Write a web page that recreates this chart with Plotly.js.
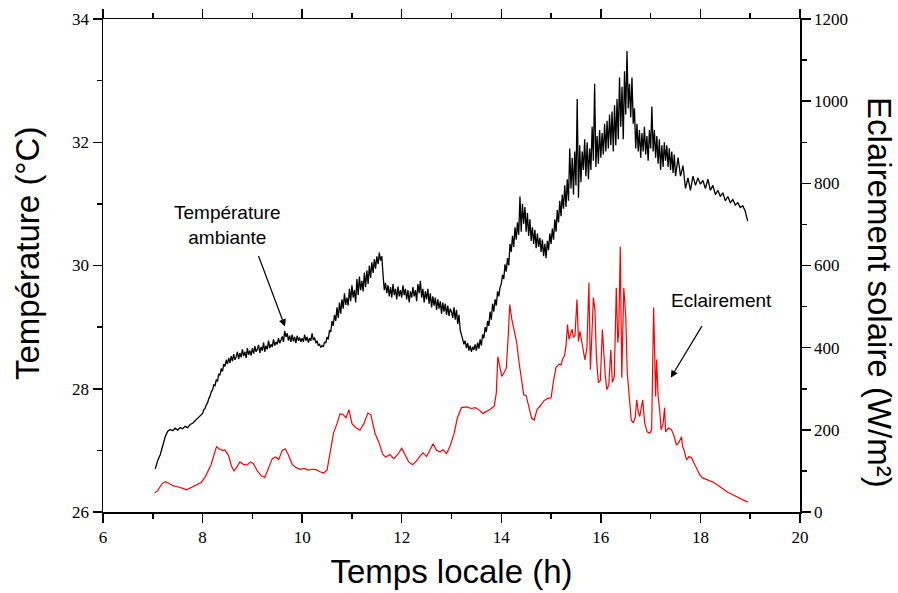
<!DOCTYPE html>
<html>
<head>
<meta charset="utf-8">
<script src="https://cdn.plot.ly/plotly-3.0.1.min.js"></script>
<style>html,body{margin:0;padding:0;background:#fff;}#chart{width:898px;height:593px;}</style>
</head>
<body>
<div id="chart"></div>
<script>
// Ambient temperature (°C), read from the figure in four sampled stretches
// stretch A: 7.05 h .. 7.95 h, every 0.05 h
var tempAStart = 7.05, tempAStep = 0.05;
var tempA = [
  26.70, 26.84, 26.93, 27.08, 27.22, 27.31, 27.34, 27.32, 27.36, 27.33, 27.37, 27.35, 27.39, 27.37, 27.42, 27.44, 27.48, 27.52, 27.57
];
// stretch B: 8.000 h .. 13.975 h, every 0.025 h
var tempBStart = 8.0, tempBStep = 0.025;
var tempB = [
  27.60, 27.66, 27.68, 27.74, 27.77, 27.84, 27.88, 27.95, 27.98, 28.06, 28.05, 28.15, 28.12, 28.24, 28.22, 28.33, 28.28, 28.40, 28.36, 28.47,
  28.40, 28.50, 28.42, 28.53, 28.45, 28.56, 28.47, 28.52, 28.60, 28.48, 28.58, 28.51, 28.64, 28.53, 28.60, 28.50, 28.66, 28.55, 28.62, 28.54,
  28.66, 28.57, 28.69, 28.60, 28.64, 28.71, 28.58, 28.68, 28.62, 28.75, 28.60, 28.70, 28.64, 28.78, 28.66, 28.72, 28.68, 28.80, 28.70, 28.76,
  28.72, 28.82, 28.74, 28.79, 28.85, 28.76, 28.94, 28.84, 28.90, 28.78, 28.86, 28.76, 28.88, 28.77, 28.84, 28.74, 28.86, 28.78, 28.83, 28.76,
  28.82, 28.76, 28.88, 28.78, 28.84, 28.75, 28.82, 28.78, 28.90, 28.79, 28.83, 28.74, 28.78, 28.70, 28.72, 28.67, 28.70, 28.68, 28.76, 28.74,
  28.84, 28.80, 28.95, 28.92, 29.10, 29.02, 29.20, 29.10, 29.32, 29.15, 29.40, 29.22, 29.45, 29.30, 29.55, 29.36, 29.48, 29.35, 29.62, 29.42,
  29.68, 29.48, 29.60, 29.40, 29.78, 29.52, 29.82, 29.60, 29.75, 29.58, 29.88, 29.65, 29.92, 29.70, 30.00, 29.80, 30.05, 29.88, 30.10, 29.95,
  30.15, 30.02, 30.21, 30.08, 30.15, 29.85, 29.60, 29.72, 29.55, 29.68, 29.50, 29.65, 29.48, 29.70, 29.52, 29.62, 29.45, 29.66, 29.50, 29.60,
  29.48, 29.68, 29.52, 29.62, 29.45, 29.60, 29.40, 29.58, 29.48, 29.65, 29.50, 29.60, 29.42, 29.70, 29.55, 29.75, 29.48, 29.62, 29.40, 29.58,
  29.45, 29.62, 29.38, 29.55, 29.32, 29.50, 29.35, 29.48, 29.28, 29.45, 29.30, 29.42, 29.22, 29.40, 29.25, 29.38, 29.20, 29.35, 29.18, 29.30,
  29.25, 29.15, 29.32, 29.12, 29.28, 29.05, 29.20, 28.95, 28.85, 28.80, 28.72, 28.78, 28.66, 28.74, 28.62, 28.70, 28.60, 28.68, 28.63, 28.72,
  28.62, 28.75, 28.65, 28.80, 28.70, 28.88, 28.82, 29.00, 28.92, 29.10, 29.02, 29.25, 29.12, 29.38, 29.25, 29.45, 29.35, 29.58, 29.50, 29.65
];
// stretch C: 14.000 h .. 17.500 h, every 0.025 h
var tempCStart = 14.0, tempCStep = 0.025;
var tempC = [
  29.70, 29.85, 29.78, 30.02, 29.90, 30.12, 30.00, 30.35, 30.22, 30.48, 30.30, 30.62, 30.42, 30.70, 30.50, 31.12, 30.55, 31.00, 30.68, 30.95,
  30.55, 30.85, 30.48, 30.75, 30.40, 30.62, 30.35, 30.58, 30.28, 30.52, 30.30, 30.45, 30.22, 30.42, 30.15, 30.35, 30.12, 30.40, 30.25, 30.52,
  30.35, 30.60, 30.42, 30.75, 30.55, 30.90, 30.70, 31.05, 30.80, 31.15, 30.92, 31.30, 30.95, 31.40, 31.05, 31.90, 31.25, 31.75, 31.15, 31.85,
  31.30, 32.70, 31.10, 31.95, 31.35, 31.85, 31.55, 32.05, 31.45, 32.00, 31.40, 31.90, 31.55, 32.25, 31.70, 32.95, 31.60, 32.10, 31.65, 32.20,
  31.75, 32.15, 31.80, 32.30, 31.85, 32.35, 31.90, 32.45, 31.95, 32.50, 31.85, 32.60, 31.95, 32.70, 32.05, 33.05, 32.25, 32.90, 32.05, 33.15,
  32.45, 33.48, 32.55, 32.95, 32.40, 33.05, 32.30, 32.55, 31.90, 32.30, 31.85, 32.20, 31.75, 32.15, 31.85, 32.25, 31.80, 32.10, 31.70, 32.20,
  31.90, 32.58, 31.85, 32.20, 31.75, 32.10, 31.65, 32.05, 31.55, 31.95, 31.60, 32.00, 31.70, 31.95, 31.60, 31.90, 31.55, 31.85, 31.50, 31.80,
  31.45
];
// stretch D: 17.55 h .. 18.95 h, every 0.05 h
var tempDStart = 17.55, tempDStep = 0.05;
var tempD = [
  31.75, 31.45, 31.62, 31.25, 31.42, 31.22, 31.45, 31.30, 31.42, 31.32, 31.38, 31.25, 31.40, 31.22, 31.30, 31.15, 31.22, 31.12, 31.18, 31.05,
  31.12, 31.02, 31.07, 30.98, 31.02, 30.94, 30.97, 30.88, 30.72
];

// Solar irradiance (W/m2)
var irrTimes = [
  7.04, 7.10, 7.18, 7.25, 7.32, 7.40, 7.48, 7.55, 7.62, 7.68, 7.75, 7.82, 7.90, 7.97,
  8.05, 8.10, 8.17, 8.23, 8.28, 8.33, 8.40, 8.45, 8.52, 8.58, 8.63, 8.68, 8.75, 8.82, 8.89, 8.96,
  9.02, 9.10, 9.18, 9.25, 9.32, 9.40, 9.47, 9.53, 9.60, 9.66, 9.72, 9.80, 9.88, 9.96,
  10.05, 10.12, 10.20, 10.28, 10.36, 10.43, 10.50, 10.57, 10.63, 10.70, 10.76, 10.82, 10.88, 10.94,
  11.00, 11.08, 11.16, 11.24, 11.32, 11.38, 11.46, 11.54, 11.62, 11.68, 11.76, 11.84, 11.92,
  12.00, 12.06, 12.14, 12.22, 12.30, 12.38, 12.43, 12.50, 12.57, 12.63, 12.70, 12.77, 12.83, 12.90, 12.97,
  13.05, 13.12, 13.20, 13.30, 13.40, 13.48, 13.56, 13.63, 13.70, 13.78, 13.86, 13.90, 13.93, 13.97,
  14.01, 14.06, 14.10, 14.14, 14.17, 14.21, 14.24, 14.28, 14.31, 14.35, 14.40, 14.45, 14.50, 14.55, 14.61, 14.66, 14.72, 14.78, 14.85, 14.92,
  15.00, 15.05, 15.10, 15.16, 15.20, 15.23, 15.27, 15.30, 15.33, 15.36, 15.39, 15.42, 15.45, 15.48, 15.52, 15.55, 15.58, 15.61, 15.64, 15.68,
  15.72, 15.76, 15.79, 15.82, 15.85, 15.88, 15.91, 15.95, 15.99,
  16.03, 16.05, 16.09, 16.12, 16.16, 16.20, 16.23, 16.27, 16.31, 16.34, 16.36, 16.39, 16.42, 16.46, 16.50, 16.53, 16.57, 16.61, 16.65,
  16.69, 16.72, 16.75, 16.78, 16.82, 16.84, 16.88, 16.93, 16.98,
  17.02, 17.06, 17.08, 17.10, 17.12, 17.15, 17.18, 17.21, 17.25, 17.28, 17.30, 17.36, 17.42, 17.47, 17.52, 17.57, 17.62, 17.64, 17.67,
  17.72, 17.77, 17.82, 17.90, 17.98,
  18.04, 18.15, 18.25, 18.35, 18.45, 18.55, 18.65, 18.75, 18.85, 18.95
];
var irrValues = [
  47, 52, 68, 74, 70, 64, 62, 60, 57, 54, 58, 64, 68, 72,
  85, 98, 115, 140, 159, 154, 150, 151, 138, 112, 100, 108, 122, 116, 114, 122,
  118, 100, 88, 84, 105, 130, 134, 128, 150, 154, 140, 116, 108, 104,
  106, 102, 104, 103, 98, 95, 102, 150, 192, 215, 239, 238, 229, 249,
  215, 205, 199, 215, 241, 237, 193, 170, 140, 134, 140, 130, 140,
  155, 140, 122, 115, 125, 138, 144, 135, 150, 166, 150, 146, 152, 142, 160,
  190, 230, 254, 256, 252, 254, 248, 240, 244, 250, 258, 290, 378, 350,
  330, 340, 350, 430, 505, 470, 451, 430, 412, 370, 320, 285, 283, 260, 228, 224, 250, 258, 270, 276,
  278, 320, 352, 360, 358, 372, 380, 405, 456, 420, 430, 445, 425, 430, 517, 415, 440, 420, 398, 370,
  400, 558, 346, 440, 522, 493, 380, 315, 320,
  444, 400, 330, 298, 310, 395, 315, 330, 546, 412, 440, 646, 327, 546, 476, 339, 280, 224, 217,
  230, 273, 245, 232, 260, 273, 217, 195, 192,
  200, 498, 350, 281, 371, 281, 250, 200, 215, 254, 195, 205, 200, 185, 163, 170, 183, 160, 151,
  127, 135, 132, 112, 92,
  83, 78, 73, 65, 56, 48, 42, 36, 30, 24
];

var xTickLabels = ['6', '8', '10', '12', '14', '16', '18', '20'];
var yTickLabels = ['26', '28', '30', '32', '34'];
var y2TickLabels = ['0', '200', '400', '600', '800', '1000', '1200'];

function stretchTimes(vals, start, step) {
  return vals.map(function (v, i) { return +(start + i * step).toFixed(3); });
}
var tempTimes = [].concat(
  stretchTimes(tempA, tempAStart, tempAStep),
  stretchTimes(tempB, tempBStart, tempBStep),
  stretchTimes(tempC, tempCStart, tempCStep),
  stretchTimes(tempD, tempDStart, tempDStep)
);
var tempValues = [].concat(tempA, tempB, tempC, tempD);

var sans = 'Arial, Liberation Sans, sans-serif';
var serif = 'Liberation Serif, Times New Roman, serif';

var traces = [
  {
    x: tempTimes, y: tempValues, type: 'scatter', mode: 'lines',
    line: {color: '#000000', width: 1.3}, yaxis: 'y', name: 'Température ambiante'
  },
  {
    x: irrTimes, y: irrValues, type: 'scatter', mode: 'lines',
    line: {color: '#ff0000', width: 1.2}, yaxis: 'y2', name: 'Eclairement'
  }
];

var axisCommon = {
  showgrid: false, zeroline: false, showline: true, linecolor: '#000', linewidth: 1.5,
  ticks: 'outside', ticklen: 9, tickwidth: 1.5, tickcolor: '#000',
  tickfont: {family: serif, size: 17, color: '#000'}
};
var minorTicks = {ticks: 'outside', ticklen: 5, tickwidth: 1.5, tickcolor: '#000'};

var layout = {
  width: 898, height: 593,
  margin: {l: 103, r: 98, t: 19, b: 81, pad: 0},
  paper_bgcolor: '#fff', plot_bgcolor: '#fff',
  showlegend: false,
  xaxis: Object.assign({}, axisCommon, {
    range: [6, 20], tickmode: 'array',
    tickvals: xTickLabels.map(Number), ticktext: xTickLabels,
    mirror: 'ticks',
    minor: Object.assign({dtick: 1}, minorTicks),
    title: {text: 'Temps locale (h)', font: {family: sans, size: 33, color: '#000'}, standoff: 14}
  }),
  yaxis: Object.assign({}, axisCommon, {
    range: [26, 34], tickmode: 'array',
    tickvals: yTickLabels.map(Number), ticktext: yTickLabels,
    minor: Object.assign({dtick: 1}, minorTicks)
  }),
  yaxis2: Object.assign({}, axisCommon, {
    range: [0, 1200], overlaying: 'y', side: 'right', tickmode: 'array',
    tickvals: y2TickLabels.map(Number), ticktext: y2TickLabels,
    minor: Object.assign({dtick: 100}, minorTicks)
  }),
  annotations: [
    {
      xref: 'paper', yref: 'paper', x: -0.109, y: 0.5233, xanchor: 'center', yanchor: 'middle',
      text: 'Température (°C)', textangle: -90, showarrow: false,
      font: {family: sans, size: 33, color: '#000'}
    },
    {
      xref: 'paper', yref: 'paper', x: 1.1148, y: 0.446, xanchor: 'center', yanchor: 'middle',
      text: 'Eclairement solaire (W/m²)', textangle: 90, showarrow: false,
      font: {family: sans, size: 33, color: '#000'}
    },
    {
      xref: 'x', yref: 'y', x: 8.51, y: 30.65, text: 'Température<br>ambiante', showarrow: false,
      xanchor: 'center', yanchor: 'middle', align: 'center',
      font: {family: sans, size: 19, color: '#000'}
    },
    {
      xref: 'x', yref: 'y', x: 9.655, y: 29.01, text: '', showarrow: true,
      ax: -27, ay: -72, arrowhead: 2, arrowsize: 1.2, arrowwidth: 1.2, arrowcolor: '#000'
    },
    {
      xref: 'x', yref: 'y', x: 18.43, y: 29.43, text: 'Eclairement', showarrow: false,
      xanchor: 'center', yanchor: 'middle',
      font: {family: sans, size: 19, color: '#000'}
    },
    {
      xref: 'x', yref: 'y', x: 17.405, y: 28.18, text: '', showarrow: true,
      ax: 32, ay: -53, arrowhead: 2, arrowsize: 1.2, arrowwidth: 1.2, arrowcolor: '#000'
    }
  ]
};

Plotly.newPlot('chart', traces, layout, {staticPlot: true, displayModeBar: false});
</script>
</body>
</html>
